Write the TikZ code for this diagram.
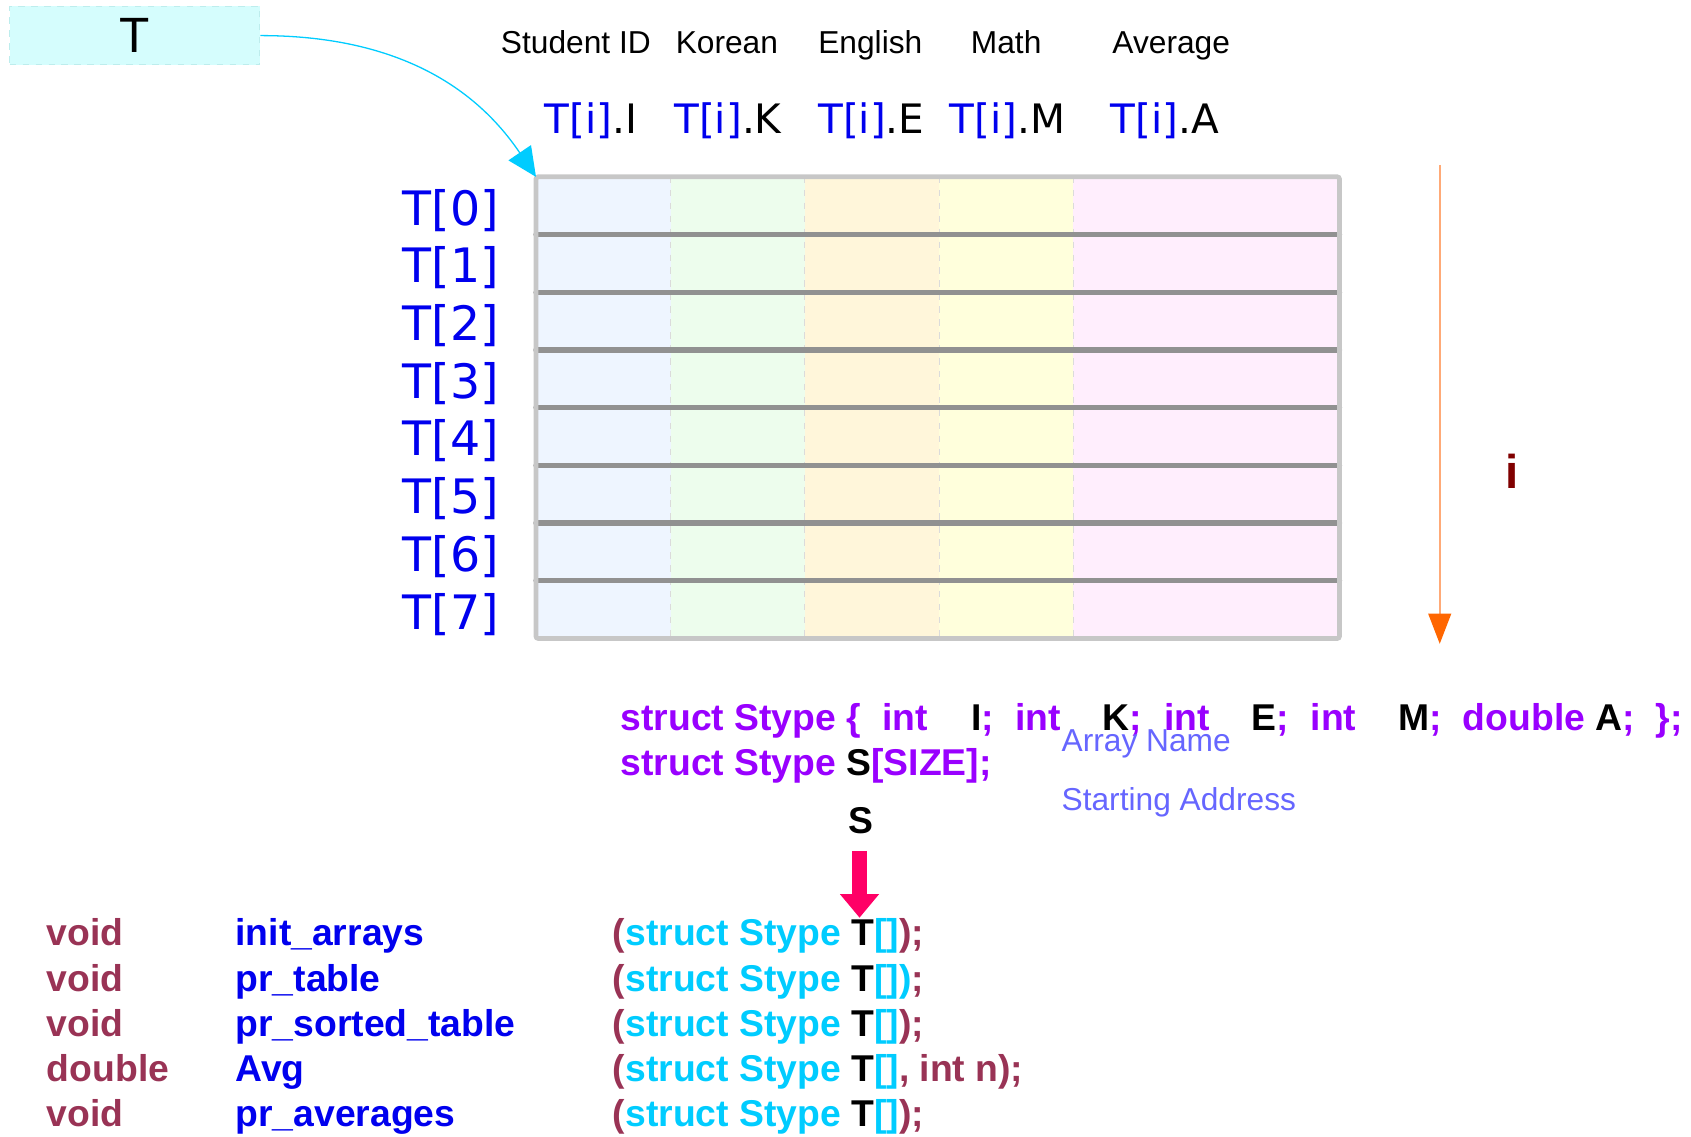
\documentclass[tikz,border=0pt]{standalone}
\usepackage{fontspec}
\setmainfont{Liberation Sans}
\newfontfamily\dejavu{DejaVu Sans}
\usetikzlibrary{arrows.meta}

\definecolor{tcyan}{HTML}{D5FDFD}
\definecolor{tbord}{HTML}{BDEDED}
\definecolor{arrcyan}{HTML}{00CCFF}
\definecolor{idblue}{HTML}{0000EE}
\definecolor{kwpurple}{HTML}{9900FF}
\definecolor{kwmaroon}{HTML}{993355}
\definecolor{ptrpink}{HTML}{FF0066}
\definecolor{iorange}{HTML}{FF6600}
\definecolor{ilight}{HTML}{FFAA77}
\definecolor{idark}{HTML}{800000}
\definecolor{notecol}{HTML}{6666FF}
\definecolor{colI}{HTML}{EEF5FF}
\definecolor{colK}{HTML}{EDFDED}
\definecolor{colE}{HTML}{FFF6DA}
\definecolor{colM}{HTML}{FFFFDC}
\definecolor{colA}{HTML}{FFEEFD}

\newcommand{\stT}{(\textcolor{arrcyan}{struct Stype }\textcolor{black}{T}\textcolor{arrcyan}{[]}}

\tikzset{
  hdr/.style={anchor=base, font=\fontsize{14.7}{17}\selectfont},
  elem/.style={anchor=base, font=\dejavu\fontsize{18.8}{22}\selectfont},
  rowlbl/.style={anchor=base east, inner sep=0pt, text=idblue, font=\dejavu\fontsize{22}{26}\selectfont},
  code/.style={anchor=base west, inner sep=0pt, font=\bfseries\fontsize{17.3}{20}\selectfont},
  note/.style={anchor=base west, inner sep=0pt, text=notecol, font=\fontsize{14.7}{17}\selectfont},
}

\begin{document}
\begin{tikzpicture}[x=0.5pt, y=-0.5pt]
  \useasboundingbox (0,0) rectangle (1568,1053.4);

  % the table of records
  \fill[colI] (497,164) rectangle (622,592);
  \fill[colK] (622,164) rectangle (746,592);
  \fill[colE] (746,164) rectangle (871,592);
  \fill[colM] (871,164) rectangle (995,592);
  \fill[colA] (995,164) rectangle (1242,592);
  \foreach \x in {622,746,871,995}
    \draw[black!14, dashed, line width=0.5pt] (\x,164) -- (\x,592);
  \foreach \k in {1,...,7}
    \draw[black!43, line width=2.5pt, line cap=round] (497,164+53.5*\k) -- (1242,164+53.5*\k);
  \draw[black!22, line width=2.2pt, rounded corners=1pt] (497,164) rectangle (1242,592);
  \coordinate (tabNW) at (497,164);

  \foreach \k in {0,...,7}
    \node[rowlbl] (row\k) at (463,164+53.5*\k+44.75) {T[\k]};

  % column headers
  \node[hdr] (hdrI) at (534,50) {Student ID};
  \node[hdr] (hdrK) at (674,50) {Korean};
  \node[hdr] (hdrE) at (807,50) {English};
  \node[hdr] (hdrM) at (933,50) {Math};
  \node[hdr] (hdrA) at (1086,50) {Average};

  \node[elem] (elI) at (548,124) {\textcolor{idblue}{T[i]}.I};
  \node[elem] (elK) at (675,124) {\textcolor{idblue}{T[i]}.K};
  \node[elem] (elE) at (808,124) {\textcolor{idblue}{T[i]}.E};
  \node[elem] (elM) at (934,124) {\textcolor{idblue}{T[i]}.M};
  \node[elem] (elA) at (1080,124) {\textcolor{idblue}{T[i]}.A};

  % array name box
  \node[draw=tbord, dashed, fill=tcyan, line width=0.5pt, inner sep=0pt,
        minimum width=116pt, minimum height=27pt,
        font=\fontsize{23}{27}\selectfont] (Tbox) at (125,33) {T};
  \draw[arrcyan, line width=0.6pt, -{Triangle[length=13.5pt, width=12.5pt]}]
    (Tbox.east) to[out=0, in=124] (tabNW);

  % index direction
  \coordinate (iTop) at (1335,153);
  \coordinate (iBot) at (1335,597);
  \draw[ilight, line width=1pt, -{Triangle[length=14pt, width=10.5pt, color=iorange]}] (iTop) -- (iBot);
  \node[text=idark, font=\bfseries\fontsize{22}{26}\selectfont] (ilbl) at (1402,437) {i};

  % struct declaration
  \node[code, text=kwpurple] (st1) at (575,677) {struct Stype \{};
  \foreach \x in {818,941,1079,1215}
    \node[code, text=kwpurple] (int\x) at (\x,677) {int};
  \foreach \x/\f in {900/I,1022/K,1160/E,1296/M,1479/A}
    \node[code] (fld\f) at (\x,677) {\f\textcolor{kwpurple}{;}};
  \node[code, text=kwpurple] (dbl) at (1356,677) {double};
  \node[code, text=kwpurple] (stend) at (1535,677) {\};};
  \node[code] (st2) at (575,719) {\textcolor{kwpurple}{struct Stype }S\textcolor{kwpurple}{[SIZE];}};

  \node[note] (nName) at (984,697) {Array Name};
  \node[note] (nAddr) at (984,752) {Starting Address};

  \node[font=\bfseries\fontsize{17.3}{20}\selectfont, inner sep=0pt] (Slbl) at (798,761) {S};
  \coordinate (pTop) at (797,789);
  \coordinate (pTip) at (797,851);
  \draw[ptrpink, line width=7.3pt, -{Triangle[length=11pt, width=17.5pt]}] (pTop) -- (pTip);

  % function prototypes
  \node[code, text=kwmaroon] (ret1) at (43,877) {void};
  \node[code, text=idblue] (fn1) at (218,877) {init\_arrays};
  \node[code, text=kwmaroon] (arg1) at (568,877) {\stT);};

  \node[code, text=kwmaroon] (ret2) at (43,919) {void};
  \node[code, text=idblue] (fn2) at (218,919) {pr\_table};
  \node[code, text=kwmaroon] (arg2) at (568,919) {\stT\textcolor{arrcyan}{)};};

  \node[code, text=kwmaroon] (ret3) at (43,961) {void};
  \node[code, text=idblue] (fn3) at (218,961) {pr\_sorted\_table};
  \node[code, text=kwmaroon] (arg3) at (568,961) {\stT);};

  \node[code, text=kwmaroon] (ret4) at (43,1003) {double};
  \node[code, text=idblue] (fn4) at (218,1003) {Avg};
  \node[code, text=kwmaroon] (arg4) at (568,1003) {\stT, int n);};

  \node[code, text=kwmaroon] (ret5) at (43,1045) {void};
  \node[code, text=idblue] (fn5) at (218,1045) {pr\_averages};
  \node[code, text=kwmaroon] (arg5) at (568,1045) {\stT);};
\end{tikzpicture}
\end{document}
